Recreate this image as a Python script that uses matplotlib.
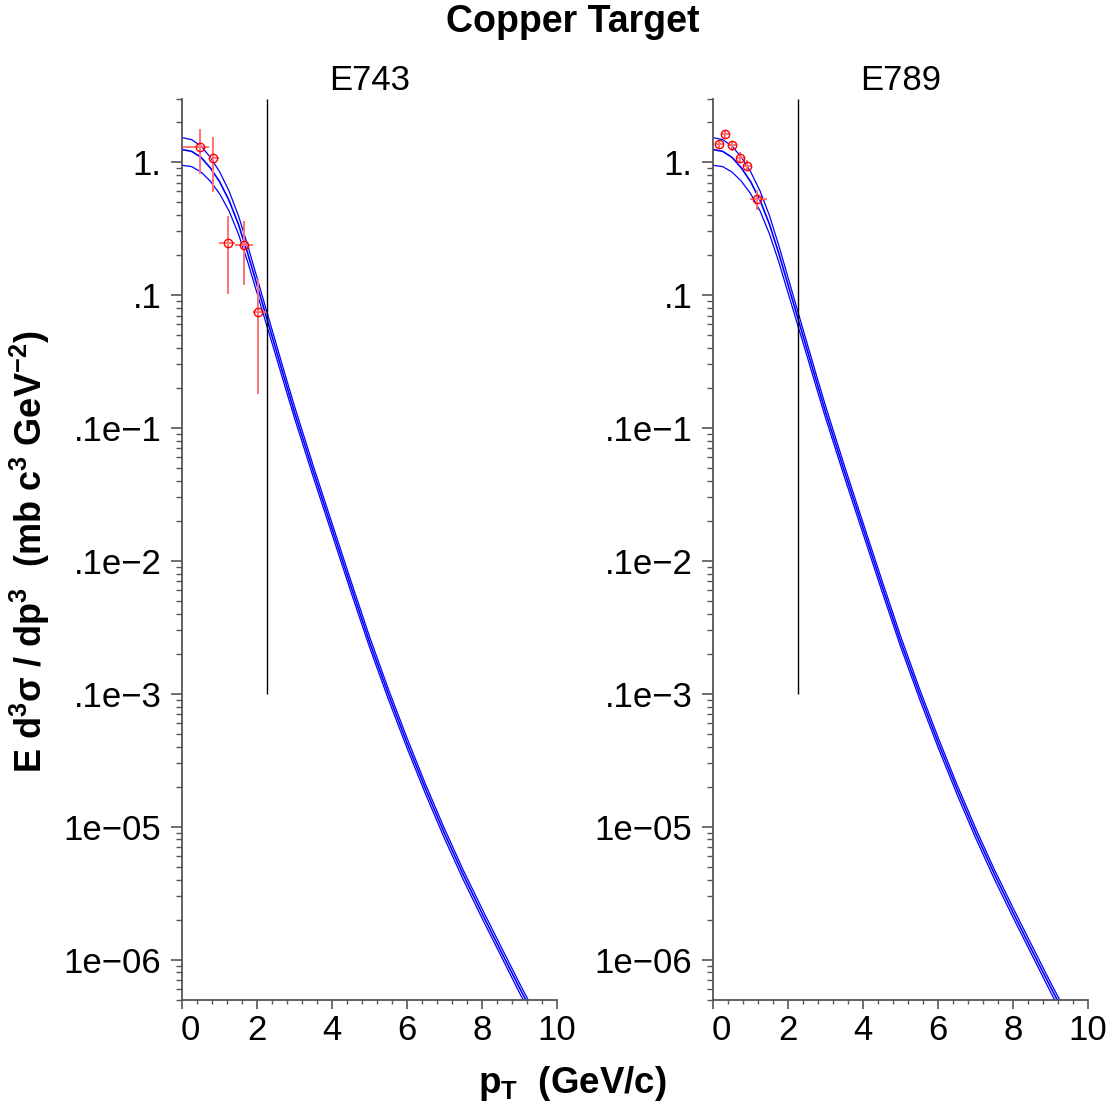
import matplotlib
matplotlib.use("Agg")
import matplotlib.pyplot as plt
import matplotlib.transforms as mtransforms
import numpy as np
from matplotlib.ticker import FixedLocator, FixedFormatter, MultipleLocator, LogLocator, NullFormatter

plt.rcParams["font.family"] = ["Liberation Sans", "DejaVu Sans"]
plt.rcParams["mathtext.fontset"] = "custom"
plt.rcParams["mathtext.rm"] = "Liberation Sans:bold"
plt.rcParams["mathtext.it"] = "Liberation Sans:bold"
plt.rcParams["mathtext.bf"] = "Liberation Sans:bold"

AXIS_GRAY = "#555555"
CURVE_BLUE = "#0000FF"
POINT_RED = "#FF0000"
BAR_RED = "#FF7373"

# model curves (same in both panels)
pt_grid = [0.0, 0.25, 0.5, 0.75, 1.0, 1.25, 1.5, 1.75, 2.0, 2.25, 2.5, 2.75, 3.0,
           3.5, 4.0, 4.5, 5.0, 5.5, 6.0, 6.5, 7.0, 7.5, 8.0, 8.5, 9.0, 9.5]
curve_high = [1.524, 1.472, 1.318, 1.084, 0.841, 0.603, 0.394, 0.234, 0.1334, 0.0759,
              0.0435, 0.0249, 0.01445, 5.16e-3, 1.91e-3, 7.10e-4, 2.69e-4, 1.09e-4,
              4.66e-5, 2.07e-5, 9.68e-6, 4.73e-6, 2.43e-6, 1.27e-6, 6.68e-7, 3.59e-7]
curve_mid = [1.239, 1.202, 1.084, 0.902, 0.708, 0.513, 0.339, 0.204, 0.1175, 0.0676,
             0.0389, 0.0224, 0.0130, 4.68e-3, 1.74e-3, 6.46e-4, 2.45e-4, 1.00e-4,
             4.27e-5, 1.91e-5, 8.91e-6, 4.37e-6, 2.24e-6, 1.17e-6, 6.17e-7, 3.31e-7]
curve_low = [0.944, 0.923, 0.841, 0.716, 0.575, 0.427, 0.287, 0.176, 0.1023, 0.0596,
             0.0347, 0.0201, 0.01175, 4.24e-3, 1.58e-3, 5.87e-4, 2.24e-4, 9.14e-5,
             3.91e-5, 1.75e-5, 8.17e-6, 4.01e-6, 2.06e-6, 1.08e-6, 5.66e-7, 3.04e-7]

# E743 data
e743_pt = [0.47, 0.83, 1.21, 1.65, 2.03]
e743_pt_lo = [0.46, 0.11, 0.22, 0.24, 0.15]
e743_pt_hi = [0.24, 0.16, 0.20, 0.23, 0.21]
e743_y = [1.296, 1.07, 0.246, 0.237, 0.0747]
e743_y_lo = [0.818, 0.595, 0.1016, 0.1186, 0.018]
e743_y_hi = [1.78, 1.54, 0.391, 0.359, 0.1315]

# E789 data
e789_pt = [0.15, 0.31, 0.51, 0.71, 0.90, 1.16]
e789_pt_lo = [0.11, 0.10, 0.10, 0.10, 0.10, 0.17]
e789_pt_hi = [0.11, 0.10, 0.10, 0.10, 0.10, 0.27]
e789_y = [1.358, 1.62, 1.335, 1.08, 0.929, 0.527]
e789_y_lo = [1.26, 1.50, 1.22, 0.983, 0.851, 0.434]
e789_y_hi = [1.44, 1.75, 1.44, 1.19, 1.03, 0.62]

cut_pt = 2.25
cut_ymin = 1e-4

ytick_vals = [1.0, 0.1, 1e-2, 1e-3, 1e-4, 1e-5, 1e-6]
ytick_labels = ["1.", ".1", ".1e\u22121", ".1e\u22122", ".1e\u22123", "1e\u221205", "1e\u221206"]
xtick_vals = [0, 2, 4, 6, 8, 10]


def style_axes(ax):
    ax.set_yscale("log")
    ax.set_xlim(0, 10)
    ax.set_ylim(5e-7, 3)
    for side in ("top", "right"):
        ax.spines[side].set_visible(False)
    for side in ("left", "bottom"):
        ax.spines[side].set_color(AXIS_GRAY)
        ax.spines[side].set_linewidth(1.3)
    ax.yaxis.set_major_locator(FixedLocator(ytick_vals))
    ax.yaxis.set_major_formatter(FixedFormatter(ytick_labels))
    ax.yaxis.set_minor_locator(LogLocator(base=10, subs=np.arange(2, 10), numticks=30))
    ax.yaxis.set_minor_formatter(NullFormatter())
    ax.xaxis.set_major_locator(FixedLocator(xtick_vals))
    ax.xaxis.set_minor_locator(MultipleLocator(0.4))
    ax.tick_params(axis="y", which="major", length=8, width=1.2, color=AXIS_GRAY,
                   labelsize=25, pad=7)
    ax.tick_params(axis="y", which="minor", length=4, width=1.0, color=AXIS_GRAY)
    ax.tick_params(axis="x", which="major", length=6.5, width=1.2, color=AXIS_GRAY,
                   labelsize=25, pad=4)
    ax.tick_params(axis="x", which="minor", length=3, width=1.0, color=AXIS_GRAY)
    # first x label sits to the right of the axis corner
    fig = ax.figure
    lbl = ax.get_xticklabels()[0]
    lbl.set_horizontalalignment("left")
    lbl.set_transform(lbl.get_transform() + mtransforms.ScaledTranslation(-1 / 72, 0, fig.dpi_scale_trans))


def draw_panel(ax, title, pt, pt_lo, pt_hi, y, y_lo, y_hi):
    ax.plot(pt_grid, curve_high, color=CURVE_BLUE, lw=0.9)
    ax.plot(pt_grid, curve_mid, color=CURVE_BLUE, lw=1.2)
    ax.plot(pt_grid, curve_low, color=CURVE_BLUE, lw=0.9)
    ax.vlines(cut_pt, cut_ymin, 3, color="black", lw=1.0)
    pt = np.array(pt)
    y = np.array(y)
    xerr = [pt_lo, pt_hi]
    yerr = [y - np.array(y_lo), np.array(y_hi) - y]
    ax.errorbar(pt, y, xerr=xerr, yerr=yerr, fmt="none", ecolor=BAR_RED,
                elinewidth=1.4, capsize=0, zorder=3)
    ax.plot(pt, y, "o", mfc="none", mec=POINT_RED, mew=1.0, ms=6, zorder=4)
    ax.set_title(title, fontsize=25, pad=6)
    style_axes(ax)


fig = plt.figure(figsize=(11.15, 11.10), dpi=100)
ax1 = fig.add_axes([0.1635, 0.0995, 0.3358, 0.8117])
ax2 = fig.add_axes([0.6397, 0.0995, 0.3363, 0.8117])

draw_panel(ax1, "E743", e743_pt, e743_pt_lo, e743_pt_hi, e743_y, e743_y_lo, e743_y_hi)
draw_panel(ax2, "E789", e789_pt, e789_pt_lo, e789_pt_hi, e789_y, e789_y_lo, e789_y_hi)

fig.text(0.514, 0.980, "Copper Target", ha="center", va="center", fontsize=27, fontweight="bold")
fig.text(0.027, 0.503, "E d$^3$\u03c3 / dp$^3$  (mb c$^3$ GeV$^{-2}$)",
         rotation=90, ha="center", va="center", fontsize=26, fontweight="bold")
fig.text(0.513, 0.024, r"p$_\mathrm{T}$  (GeV/c)", ha="center", va="center",
         fontsize=26.5, fontweight="bold")

fig.savefig("out.png", dpi=100, facecolor="white")
